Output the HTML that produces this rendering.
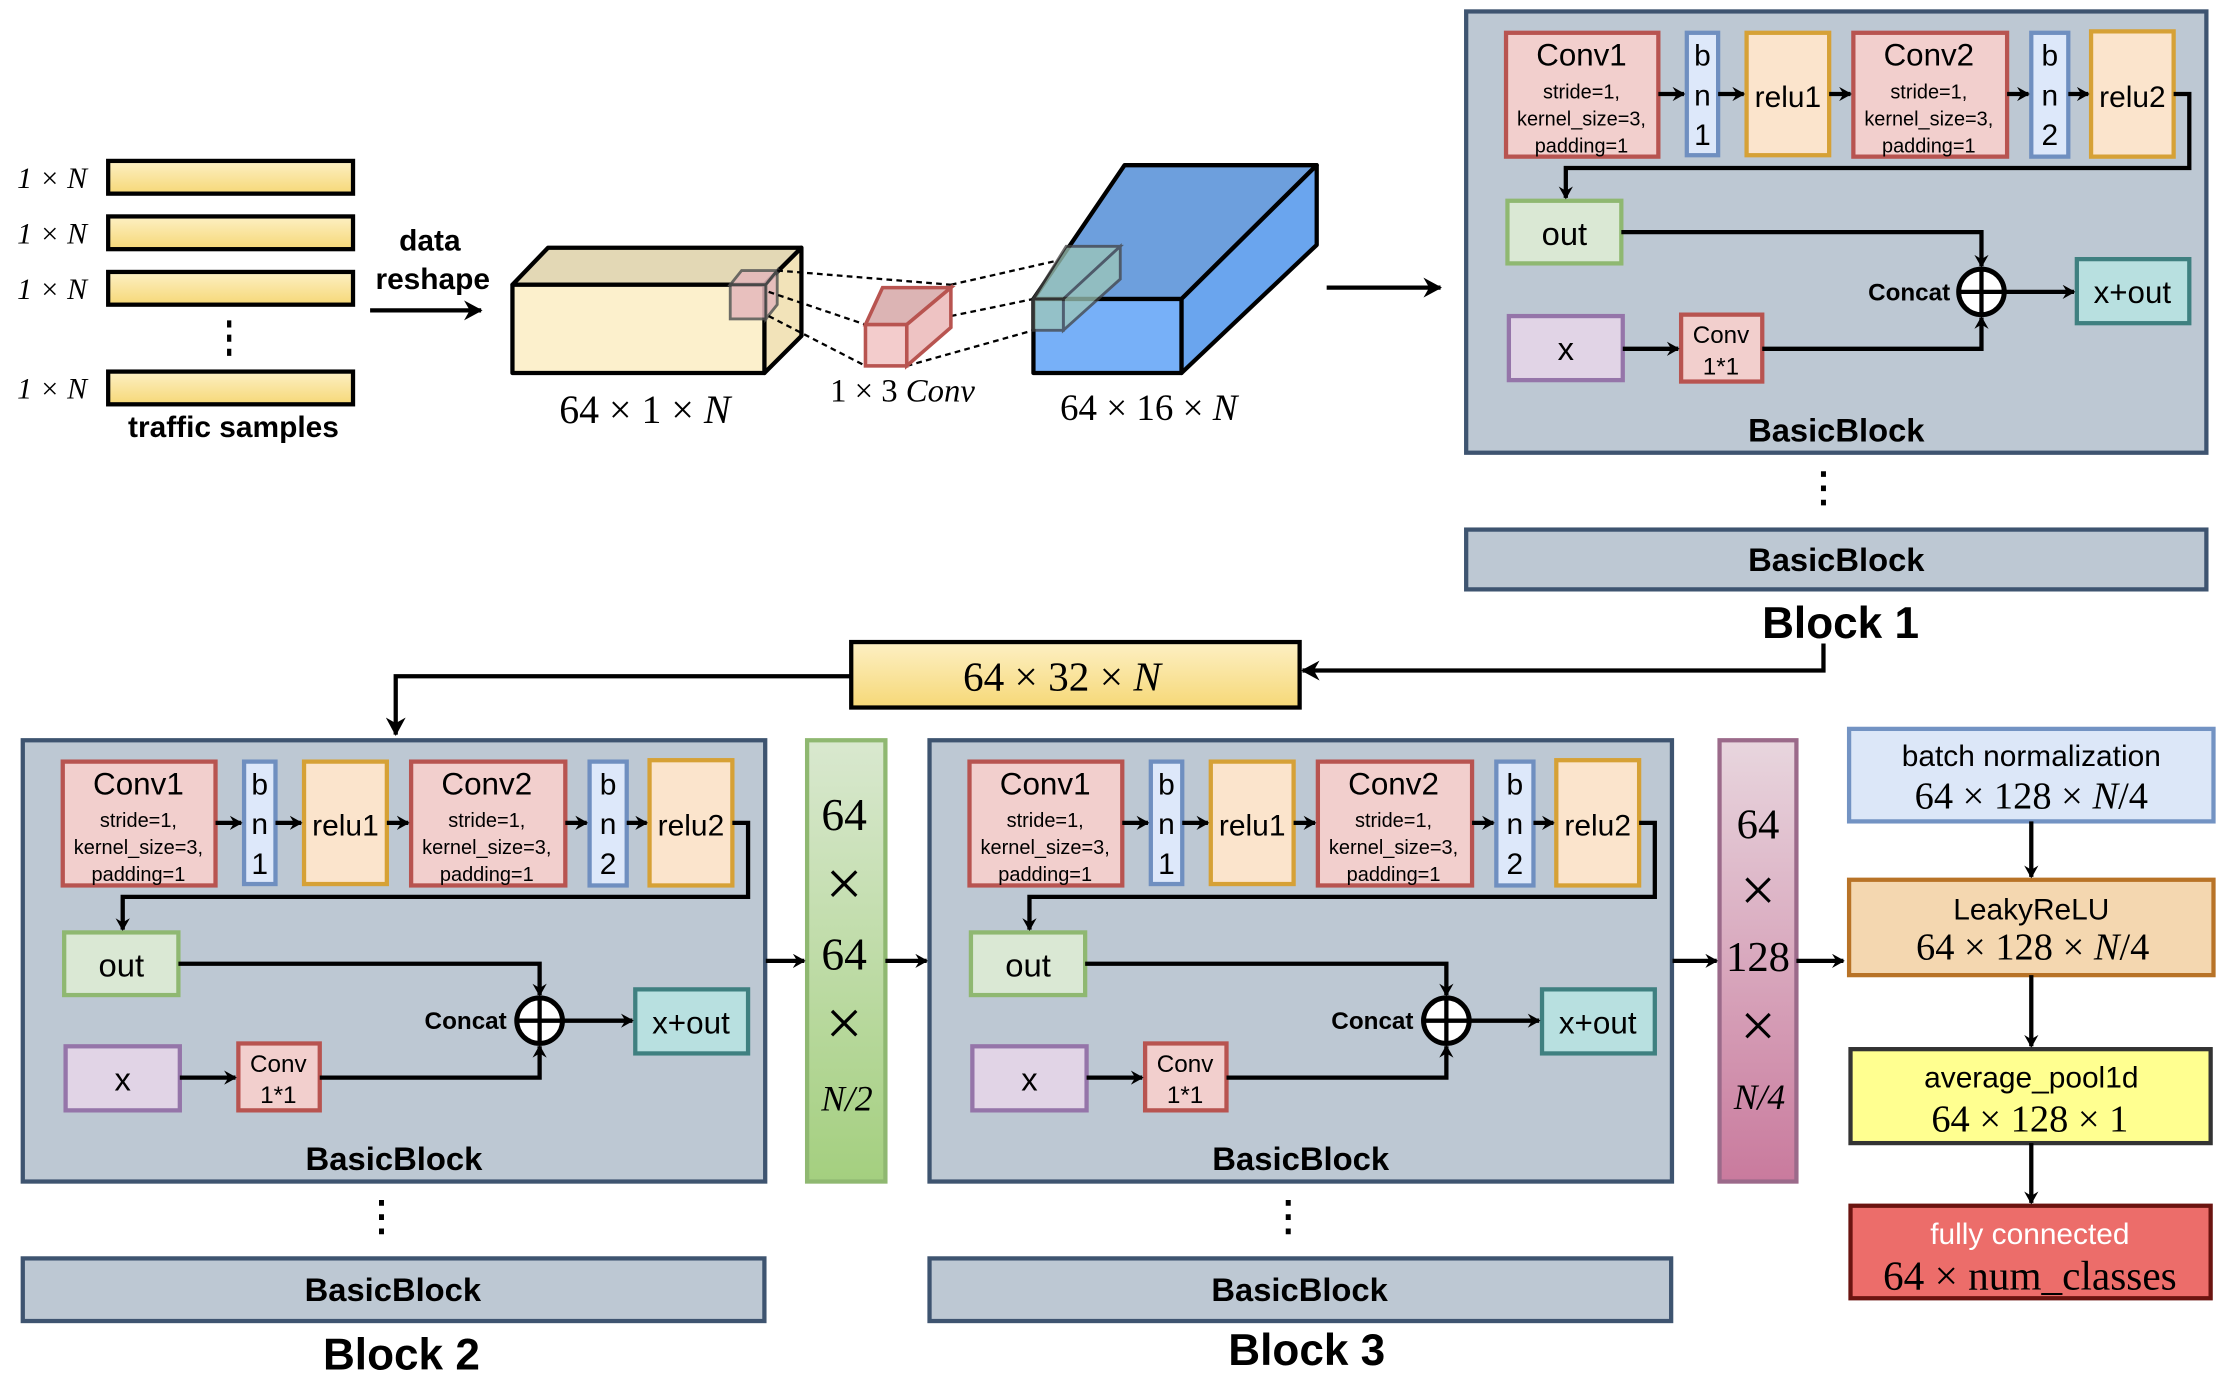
<!DOCTYPE html>
<html><head><meta charset="utf-8"><style>
html,body{margin:0;padding:0;background:#fff;}
svg{display:block;}
.s{font-family:"Liberation Sans",sans-serif;}
.m{font-family:"Liberation Serif",serif;}
</style></head><body>
<svg width="2232" height="1388" viewBox="0 0 1568 975" xmlns="http://www.w3.org/2000/svg">
<defs>
<linearGradient id="gy" x1="0" y1="0" x2="0" y2="1"><stop offset="0" stop-color="#fdf0c4"/><stop offset="1" stop-color="#f6d877"/></linearGradient>
<linearGradient id="gg" x1="0" y1="0" x2="0" y2="1"><stop offset="0" stop-color="#d9e8cf"/><stop offset="1" stop-color="#a4cf7f"/></linearGradient>
<linearGradient id="gp" x1="0" y1="0" x2="0" y2="1"><stop offset="0" stop-color="#e8d6de"/><stop offset="1" stop-color="#c97a9d"/></linearGradient>
<marker id="a" markerWidth="10" markerHeight="10" refX="8" refY="5" orient="auto" markerUnits="userSpaceOnUse"><path d="M0,0 L9,5 L0,10 L3,5 z" fill="#000"/></marker>
<marker id="b" markerWidth="14" markerHeight="14" refX="12" refY="7" orient="auto" markerUnits="userSpaceOnUse"><path d="M0,0 L13,7 L0,14 L4,7 z" fill="#000"/></marker>
</defs>

<!-- traffic samples -->
<g stroke="#000" stroke-width="3" fill="url(#gy)">
<rect x="76" y="113" width="172" height="23"/><rect x="76" y="152" width="172" height="23"/><rect x="76" y="191" width="172" height="23"/><rect x="76" y="261" width="172" height="23"/>
</g>
<g class="m" font-size="21" font-style="italic">
<text x="12" y="132">1 × N</text><text x="12" y="171">1 × N</text><text x="12" y="210">1 × N</text><text x="12" y="280">1 × N</text>
</g>
<line x1="161" y1="225" x2="161" y2="252" stroke="#000" stroke-width="3" stroke-dasharray="5,5"/>
<text class="s" x="164" y="307" font-size="21" font-weight="bold" text-anchor="middle">traffic samples</text>
<text class="s" x="302" y="176" font-size="21" font-weight="bold" text-anchor="middle">data</text>
<text class="s" x="304" y="203" font-size="21" font-weight="bold" text-anchor="middle">reshape</text>
<line x1="260" y1="218" x2="338" y2="218" stroke="#000" stroke-width="3" marker-end="url(#b)"/>

<!-- yellow cube -->
<g stroke="#000" stroke-width="3" stroke-linejoin="round">
<polygon points="360,200 385,174 563,174 537,200" fill="#e3d8b5"/>
<polygon points="537,200 563,174 563,236 537,262" fill="#f2e3b9"/>
<rect x="360" y="200" width="177" height="62" fill="#fcf0cc"/>
</g>
<g stroke="#555" stroke-width="2" fill="#e5b8bc" opacity="0.85">
<polygon points="513,200 521,190 546,190 538,200"/><polygon points="538,200 546,190 546,214 538,224"/><rect x="513" y="200" width="25" height="24"/>
</g>
<g stroke="#000" stroke-width="1.6" stroke-dasharray="4,3">
<line x1="546" y1="190" x2="668" y2="200"/><line x1="540" y1="205" x2="608" y2="228"/><line x1="540" y1="222" x2="608" y2="257"/>
<line x1="668" y1="200" x2="787" y2="173"/><line x1="668" y1="222" x2="726" y2="210"/><line x1="637" y1="257" x2="726" y2="232"/>
</g>
<g stroke="#b85450" stroke-width="2.5">
<polygon points="608,228 620,202 668,202 637,228" fill="#dcb4b4"/>
<polygon points="637,228 668,202 668,230 637,257" fill="#eec3c3"/>
<rect x="608" y="228" width="29" height="29" fill="#f3cccc"/>
</g>
<text class="m" x="634" y="282" font-size="23" text-anchor="middle">1 × 3 <tspan font-style="italic">Conv</tspan></text>
<text class="m" x="453" y="297" font-size="28" text-anchor="middle">64 × 1 × <tspan font-style="italic">N</tspan></text>

<!-- blue cuboid -->
<g stroke="#000" stroke-width="3" stroke-linejoin="round">
<polygon points="726,210 790,116 925,116 830,210" fill="#6d9fdd"/>
<polygon points="830,210 925,116 925,172 830,262" fill="#6aa5ee"/>
<rect x="726" y="210" width="104" height="52" fill="#77b0f8"/>
</g>
<g stroke="#444" stroke-width="2" fill="#9ec7b8" opacity="0.75">
<polygon points="726,210 749,173 787,173 747,210"/><polygon points="747,210 787,173 787,196 747,232"/><rect x="726" y="210" width="21" height="22"/>
</g>
<text class="m" x="807" y="295" font-size="26" text-anchor="middle">64 × 16 × <tspan font-style="italic">N</tspan></text>
<line x1="932" y1="202" x2="1012" y2="202" stroke="#000" stroke-width="3" marker-end="url(#b)"/>

<!-- BasicBlock 1 -->
<g transform="translate(1030,8)">
<rect x="0" y="0" width="520" height="310" fill="#bdc8d3" stroke="#3e5470" stroke-width="3"/>
<g stroke-width="3">
<rect x="28" y="15" width="107" height="87" fill="#f2cfcd" stroke="#b85450"/>
<rect x="155" y="15" width="22" height="86" fill="#dde8fa" stroke="#6f8fc0"/>
<rect x="197" y="15" width="58" height="86" fill="#fbe4cc" stroke="#d6a136"/>
<rect x="272" y="15" width="108" height="87" fill="#f2cfcd" stroke="#b85450"/>
<rect x="397" y="15" width="26" height="87" fill="#dde8fa" stroke="#6f8fc0"/>
<rect x="439" y="14" width="58" height="88" fill="#fbe4cc" stroke="#d6a136"/>
<rect x="29" y="133" width="80" height="44" fill="#dae8d4" stroke="#8fb871"/>
<rect x="30" y="214" width="80" height="45" fill="#e1d4e6" stroke="#9575a9"/>
<rect x="151" y="213" width="57" height="47" fill="#f2cfcd" stroke="#b85450"/>
<rect x="429" y="174" width="79" height="45" fill="#b8e0e0" stroke="#3f8080"/>
</g>
<g class="s" text-anchor="middle">
<text x="81" y="38" font-size="22">Conv1</text>
<text x="81" y="61" font-size="14">stride=1,</text>
<text x="81" y="80" font-size="14">kernel_size=3,</text>
<text x="81" y="99" font-size="14">padding=1</text>
<text x="325" y="38" font-size="22">Conv2</text>
<text x="325" y="61" font-size="14">stride=1,</text>
<text x="325" y="80" font-size="14">kernel_size=3,</text>
<text x="325" y="99" font-size="14">padding=1</text>
<text x="166" y="38" font-size="21">b</text><text x="166" y="66" font-size="21">n</text><text x="166" y="94" font-size="21">1</text>
<text x="410" y="38" font-size="21">b</text><text x="410" y="66" font-size="21">n</text><text x="410" y="94" font-size="21">2</text>
<text x="226" y="67" font-size="21">relu1</text>
<text x="468" y="67" font-size="21">relu2</text>
<text x="69" y="164" font-size="23">out</text>
<text x="70" y="245" font-size="23">x</text>
<text x="179" y="233" font-size="17">Conv</text>
<text x="179" y="255" font-size="17">1*1</text>
<text x="468" y="205" font-size="22">x+out</text>
<text x="260" y="302" font-size="23" font-weight="bold">BasicBlock</text>
<text x="340" y="203" font-size="17" font-weight="bold" text-anchor="end">Concat</text>
</g>
<g stroke="#000" stroke-width="3" fill="none">
<line x1="135" y1="58" x2="153" y2="58" marker-end="url(#a)"/>
<line x1="177" y1="58" x2="195" y2="58" marker-end="url(#a)"/>
<line x1="255" y1="58" x2="270" y2="58" marker-end="url(#a)"/>
<line x1="380" y1="58" x2="395" y2="58" marker-end="url(#a)"/>
<line x1="423" y1="58" x2="437" y2="58" marker-end="url(#a)"/>
<polyline points="497,58 508,58 508,110 70,110 70,131" marker-end="url(#a)"/>
<polyline points="109,155 362,155 362,179" marker-end="url(#a)"/>
<polyline points="208,237 362,237 362,215" marker-end="url(#a)"/>
<line x1="110" y1="237" x2="149" y2="237" marker-end="url(#a)"/>
<line x1="378" y1="197" x2="427" y2="197" marker-end="url(#a)"/>
<circle cx="362" cy="197" r="16" fill="#fff" stroke-width="3.5"/>
<line x1="346" y1="197" x2="378" y2="197"/><line x1="362" y1="181" x2="362" y2="213"/>
</g>
</g>

<g transform="translate(16,520) scale(1.003,1.0)">
<rect x="0" y="0" width="520" height="310" fill="#bdc8d3" stroke="#3e5470" stroke-width="3"/>
<g stroke-width="3">
<rect x="28" y="15" width="107" height="87" fill="#f2cfcd" stroke="#b85450"/>
<rect x="155" y="15" width="22" height="86" fill="#dde8fa" stroke="#6f8fc0"/>
<rect x="197" y="15" width="58" height="86" fill="#fbe4cc" stroke="#d6a136"/>
<rect x="272" y="15" width="108" height="87" fill="#f2cfcd" stroke="#b85450"/>
<rect x="397" y="15" width="26" height="87" fill="#dde8fa" stroke="#6f8fc0"/>
<rect x="439" y="14" width="58" height="88" fill="#fbe4cc" stroke="#d6a136"/>
<rect x="29" y="135" width="80" height="44" fill="#dae8d4" stroke="#8fb871"/>
<rect x="30" y="215" width="80" height="45" fill="#e1d4e6" stroke="#9575a9"/>
<rect x="151" y="213" width="57" height="47" fill="#f2cfcd" stroke="#b85450"/>
<rect x="429" y="175" width="79" height="45" fill="#b8e0e0" stroke="#3f8080"/>
</g>
<g class="s" text-anchor="middle">
<text x="81" y="38" font-size="22">Conv1</text>
<text x="81" y="61" font-size="14">stride=1,</text>
<text x="81" y="80" font-size="14">kernel_size=3,</text>
<text x="81" y="99" font-size="14">padding=1</text>
<text x="325" y="38" font-size="22">Conv2</text>
<text x="325" y="61" font-size="14">stride=1,</text>
<text x="325" y="80" font-size="14">kernel_size=3,</text>
<text x="325" y="99" font-size="14">padding=1</text>
<text x="166" y="38" font-size="21">b</text><text x="166" y="66" font-size="21">n</text><text x="166" y="94" font-size="21">1</text>
<text x="410" y="38" font-size="21">b</text><text x="410" y="66" font-size="21">n</text><text x="410" y="94" font-size="21">2</text>
<text x="226" y="67" font-size="21">relu1</text>
<text x="468" y="67" font-size="21">relu2</text>
<text x="69" y="166" font-size="23">out</text>
<text x="70" y="246" font-size="23">x</text>
<text x="179" y="233" font-size="17">Conv</text>
<text x="179" y="255" font-size="17">1*1</text>
<text x="468" y="206" font-size="22">x+out</text>
<text x="260" y="302" font-size="23" font-weight="bold">BasicBlock</text>
<text x="339" y="203" font-size="17" font-weight="bold" text-anchor="end">Concat</text>
</g>
<g stroke="#000" stroke-width="3" fill="none">
<line x1="135" y1="58" x2="153" y2="58" marker-end="url(#a)"/>
<line x1="177" y1="58" x2="195" y2="58" marker-end="url(#a)"/>
<line x1="255" y1="58" x2="270" y2="58" marker-end="url(#a)"/>
<line x1="380" y1="58" x2="395" y2="58" marker-end="url(#a)"/>
<line x1="423" y1="58" x2="437" y2="58" marker-end="url(#a)"/>
<polyline points="497,58 508,58 508,110 70,110 70,133" marker-end="url(#a)"/>
<polyline points="109,157 362,157 362,179" marker-end="url(#a)"/>
<polyline points="208,237 362,237 362,215" marker-end="url(#a)"/>
<line x1="110" y1="237" x2="149" y2="237" marker-end="url(#a)"/>
<line x1="378" y1="197" x2="427" y2="197" marker-end="url(#a)"/>
<circle cx="362" cy="197" r="16" fill="#fff" stroke-width="3.5"/>
<line x1="346" y1="197" x2="378" y2="197"/><line x1="362" y1="181" x2="362" y2="213"/>
</g>
</g>

<g transform="translate(653,520) scale(1.003,1.0)">
<rect x="0" y="0" width="520" height="310" fill="#bdc8d3" stroke="#3e5470" stroke-width="3"/>
<g stroke-width="3">
<rect x="28" y="15" width="107" height="87" fill="#f2cfcd" stroke="#b85450"/>
<rect x="155" y="15" width="22" height="86" fill="#dde8fa" stroke="#6f8fc0"/>
<rect x="197" y="15" width="58" height="86" fill="#fbe4cc" stroke="#d6a136"/>
<rect x="272" y="15" width="108" height="87" fill="#f2cfcd" stroke="#b85450"/>
<rect x="397" y="15" width="26" height="87" fill="#dde8fa" stroke="#6f8fc0"/>
<rect x="439" y="14" width="58" height="88" fill="#fbe4cc" stroke="#d6a136"/>
<rect x="29" y="135" width="80" height="44" fill="#dae8d4" stroke="#8fb871"/>
<rect x="30" y="215" width="80" height="45" fill="#e1d4e6" stroke="#9575a9"/>
<rect x="151" y="213" width="57" height="47" fill="#f2cfcd" stroke="#b85450"/>
<rect x="429" y="175" width="79" height="45" fill="#b8e0e0" stroke="#3f8080"/>
</g>
<g class="s" text-anchor="middle">
<text x="81" y="38" font-size="22">Conv1</text>
<text x="81" y="61" font-size="14">stride=1,</text>
<text x="81" y="80" font-size="14">kernel_size=3,</text>
<text x="81" y="99" font-size="14">padding=1</text>
<text x="325" y="38" font-size="22">Conv2</text>
<text x="325" y="61" font-size="14">stride=1,</text>
<text x="325" y="80" font-size="14">kernel_size=3,</text>
<text x="325" y="99" font-size="14">padding=1</text>
<text x="166" y="38" font-size="21">b</text><text x="166" y="66" font-size="21">n</text><text x="166" y="94" font-size="21">1</text>
<text x="410" y="38" font-size="21">b</text><text x="410" y="66" font-size="21">n</text><text x="410" y="94" font-size="21">2</text>
<text x="226" y="67" font-size="21">relu1</text>
<text x="468" y="67" font-size="21">relu2</text>
<text x="69" y="166" font-size="23">out</text>
<text x="70" y="246" font-size="23">x</text>
<text x="179" y="233" font-size="17">Conv</text>
<text x="179" y="255" font-size="17">1*1</text>
<text x="468" y="206" font-size="22">x+out</text>
<text x="260" y="302" font-size="23" font-weight="bold">BasicBlock</text>
<text x="339" y="203" font-size="17" font-weight="bold" text-anchor="end">Concat</text>
</g>
<g stroke="#000" stroke-width="3" fill="none">
<line x1="135" y1="58" x2="153" y2="58" marker-end="url(#a)"/>
<line x1="177" y1="58" x2="195" y2="58" marker-end="url(#a)"/>
<line x1="255" y1="58" x2="270" y2="58" marker-end="url(#a)"/>
<line x1="380" y1="58" x2="395" y2="58" marker-end="url(#a)"/>
<line x1="423" y1="58" x2="437" y2="58" marker-end="url(#a)"/>
<polyline points="497,58 508,58 508,110 70,110 70,133" marker-end="url(#a)"/>
<polyline points="109,157 362,157 362,179" marker-end="url(#a)"/>
<polyline points="208,237 362,237 362,215" marker-end="url(#a)"/>
<line x1="110" y1="237" x2="149" y2="237" marker-end="url(#a)"/>
<line x1="378" y1="197" x2="427" y2="197" marker-end="url(#a)"/>
<circle cx="362" cy="197" r="16" fill="#fff" stroke-width="3.5"/>
<line x1="346" y1="197" x2="378" y2="197"/><line x1="362" y1="181" x2="362" y2="213"/>
</g>
</g>

<!-- bottom BasicBlock bars -->
<g fill="#bdc8d3" stroke="#3e5470" stroke-width="3">
<rect x="1030" y="372" width="520" height="42"/>
<rect x="16" y="884" width="521" height="44"/>
<rect x="653" y="884" width="521" height="44"/>
</g>
<g class="s" font-weight="bold" text-anchor="middle">
<text x="1290" y="401" font-size="23">BasicBlock</text>
<text x="276" y="914" font-size="23">BasicBlock</text>
<text x="913" y="914" font-size="23">BasicBlock</text>
<text x="1293" y="448" font-size="31">Block 1</text>
<text x="282" y="962" font-size="31">Block 2</text>
<text x="918" y="959" font-size="31">Block 3</text>
</g>
<g stroke="#000" stroke-width="3.5" stroke-dasharray="4,6">
<line x1="1281" y1="331" x2="1281" y2="356"/>
<line x1="268" y1="843" x2="268" y2="868"/>
<line x1="905" y1="843" x2="905" y2="868"/>
</g>

<!-- 64x32xN -->
<polyline points="1281,452 1281,471 915,471" stroke="#000" stroke-width="3" fill="none" marker-end="url(#b)"/>
<rect x="598" y="451" width="315" height="46" fill="url(#gy)" stroke="#000" stroke-width="3"/>
<text class="m" x="746" y="485" font-size="29" text-anchor="middle">64 × 32 × <tspan font-style="italic">N</tspan></text>
<polyline points="598,475 278,475 278,516" stroke="#000" stroke-width="3" fill="none" marker-end="url(#b)"/>

<!-- green bar -->
<rect x="567" y="520" width="55" height="310" fill="url(#gg)" stroke="#8fb871" stroke-width="3"/>
<g class="m" font-size="32" text-anchor="middle">
<text x="593" y="583">64</text><text x="593" y="636" font-size="46">×</text><text x="593" y="681">64</text><text x="593" y="734" font-size="46">×</text>
<text x="595" y="780" font-size="25" font-style="italic">N/2</text>
</g>
<line x1="538" y1="675" x2="565" y2="675" stroke="#000" stroke-width="3" marker-end="url(#a)"/>
<line x1="622" y1="675" x2="651" y2="675" stroke="#000" stroke-width="3" marker-end="url(#a)"/>

<!-- pink bar -->
<rect x="1208" y="520" width="54" height="310" fill="url(#gp)" stroke="#9b6a8a" stroke-width="3"/>
<g class="m" font-size="30" text-anchor="middle">
<text x="1235" y="589">64</text><text x="1235" y="640" font-size="44">×</text><text x="1235" y="682">128</text><text x="1235" y="735" font-size="44">×</text>
<text x="1236" y="779" font-size="25" font-style="italic">N/4</text>
</g>
<line x1="1175" y1="675" x2="1206" y2="675" stroke="#000" stroke-width="3" marker-end="url(#a)"/>
<line x1="1262" y1="675" x2="1295" y2="675" stroke="#000" stroke-width="3" marker-end="url(#a)"/>

<!-- right column -->
<rect x="1299" y="512" width="256" height="65" fill="#dce7f8" stroke="#7393c3" stroke-width="3"/>
<rect x="1299" y="618" width="256" height="67" fill="#f4d7b0" stroke="#b87327" stroke-width="3"/>
<rect x="1300" y="737" width="253" height="66" fill="#ffff90" stroke="#333" stroke-width="3"/>
<rect x="1300" y="847" width="253" height="65" fill="#ec6d6a" stroke="#6b1410" stroke-width="3"/>
<g text-anchor="middle">
<text class="s" x="1427" y="538" font-size="21">batch normalization</text>
<text class="m" x="1427" y="568" font-size="27">64 × 128 × <tspan font-style="italic">N</tspan>/4</text>
<text class="s" x="1427" y="646" font-size="21">LeakyReLU</text>
<text class="m" x="1428" y="674" font-size="27">64 × 128 × <tspan font-style="italic">N</tspan>/4</text>
<text class="s" x="1427" y="764" font-size="21">average_pool1d</text>
<text class="m" x="1426" y="795" font-size="27">64 × 128 × 1</text>
<text class="s" x="1426" y="874" font-size="21" fill="#fff">fully connected</text>
<text class="m" x="1426" y="906" font-size="29">64 × num_classes</text>
</g>
<g stroke="#000" stroke-width="3">
<line x1="1427" y1="577" x2="1427" y2="616" marker-end="url(#a)"/>
<line x1="1427" y1="685" x2="1427" y2="735" marker-end="url(#a)"/>
<line x1="1427" y1="803" x2="1427" y2="845" marker-end="url(#a)"/>
</g>
</svg>
</body></html>
